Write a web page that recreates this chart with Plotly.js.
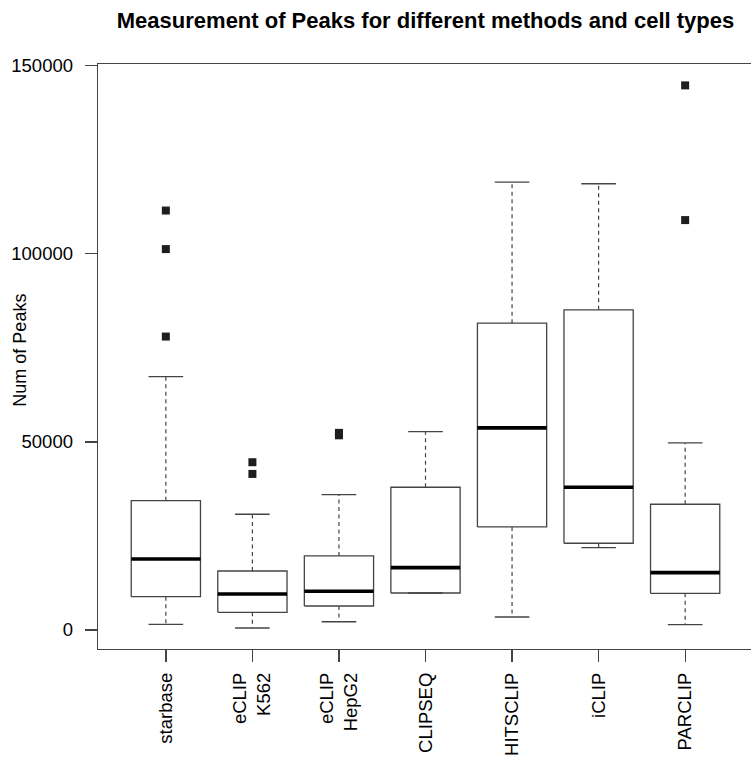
<!DOCTYPE html>
<html><head><meta charset="utf-8">
<script src="https://cdn.plot.ly/plotly-3.0.1.min.js"></script>
<style>html,body{margin:0;padding:0;overflow:hidden;background:#fff}#chart{width:760px;height:766px}</style>
</head><body><div id="chart"></div>
<script>
// ---- data ----
const methods = ['starbase','eCLIP K562','eCLIP HepG2','CLIPSEQ','HITSCLIP','iCLIP','PARCLIP'];
const tickLabels = ['starbase','eCLIP<br>K562','eCLIP<br>HepG2','CLIPSEQ','HITSCLIP','iCLIP','PARCLIP'];
const lowerWhisker = [1500, 530, 2200, 9840, 3460, 21890, 1410];
const q1 = [8860, 4710, 6380, 9840, 27390, 23060, 9760];
const median = [18880, 9580, 10290, 16570, 53720, 37950, 15240];
const q3 = [34390, 15690, 19680, 37950, 81570, 85110, 33430];
const upperWhisker = [67370, 30770, 35990, 52740, 119070, 118620, 49740];
const outliers = [[78000,101250,111500],[41490,44600],[51750,52400],[],[],[],[108960,144770]];
const yTicks = [0, 50000, 100000, 150000];

// ---- style constants ----
const HALF = 0.4, CAP = 0.2, LINE = '#444';
const pos = methods.map((_, i) => i);

const wx = [], wy = [], cx = [], cy = [], bx = [], by = [], mx = [], my = [], ox = [], oy = [];
pos.forEach(i => {
  wx.push(i, i, null, i, i, null);
  wy.push(q3[i], upperWhisker[i], null, q1[i], lowerWhisker[i], null);
  cx.push(i - CAP, i + CAP, null, i - CAP, i + CAP, null);
  cy.push(upperWhisker[i], upperWhisker[i], null, lowerWhisker[i], lowerWhisker[i], null);
  bx.push(i - HALF, i + HALF, i + HALF, i - HALF, i - HALF, null);
  by.push(q1[i], q1[i], q3[i], q3[i], q1[i], null);
  mx.push(i - HALF, i + HALF, null);
  my.push(median[i], median[i], null);
  outliers[i].forEach(v => { ox.push(i); oy.push(v); });
});

const traces = [
  {type:'scatter', mode:'lines', x:wx, y:wy, line:{color:LINE, width:1.2, dash:'4px,3.5px'}, hoverinfo:'skip', name:'whiskers'},
  {type:'scatter', mode:'lines', x:cx, y:cy, line:{color:LINE, width:1.3}, hoverinfo:'skip', name:'caps'},
  {type:'scatter', mode:'lines', x:bx, y:by, line:{color:LINE, width:1.3}, hoverinfo:'skip', name:'boxes'},
  {type:'scatter', mode:'lines', x:mx, y:my, line:{color:'#000', width:3.6}, hoverinfo:'skip', name:'medians'},
  {type:'scatter', mode:'markers', x:ox, y:oy, marker:{symbol:'square', size:8, color:'#1e1e1e'}, name:'outliers'}
];

const layout = {
  width:760, height:766,
  margin:{l:98, r:7, t:64, b:117},
  paper_bgcolor:'#fff', plot_bgcolor:'#fff', showlegend:false,
  font:{family:'Liberation Sans, Arial, Helvetica, sans-serif', color:'#000', size:18.5},
  title:{text:'<b>Measurement of Peaks for different methods and cell types</b>',
         font:{size:22, color:'#000'}, x:0.5, xref:'paper', xanchor:'center',
         y:1 - 20/766, yref:'container', yanchor:'middle'},
  xaxis:{range:[-0.784, 6.784], tickmode:'array', tickvals:pos, ticktext:tickLabels, tickangle:-90,
         ticks:'outside', ticklen:12, tickwidth:1.3, tickcolor:LINE,
         showline:true, linecolor:LINE, linewidth:1.3, mirror:true,
         showgrid:false, zeroline:false, ticklabelstandoff:3},
  yaxis:{range:[-5050, 150452], tickmode:'array', tickvals:yTicks, ticktext:yTicks.map(String),
         ticks:'outside', ticklen:12, tickwidth:1.3, tickcolor:LINE,
         showline:true, linecolor:LINE, linewidth:1.3, mirror:true,
         showgrid:false, zeroline:false, ticklabelstandoff:8},
  annotations:[{text:'Num of Peaks', textangle:-90, xref:'paper', yref:'paper',
                x:(20 - 98) / 655, y:0.51, xanchor:'center', yanchor:'middle',
                showarrow:false, font:{size:18, color:'#000'}}]
};

Plotly.newPlot('chart', traces, layout, {staticPlot:true, displayModeBar:false});
</script></body></html>
